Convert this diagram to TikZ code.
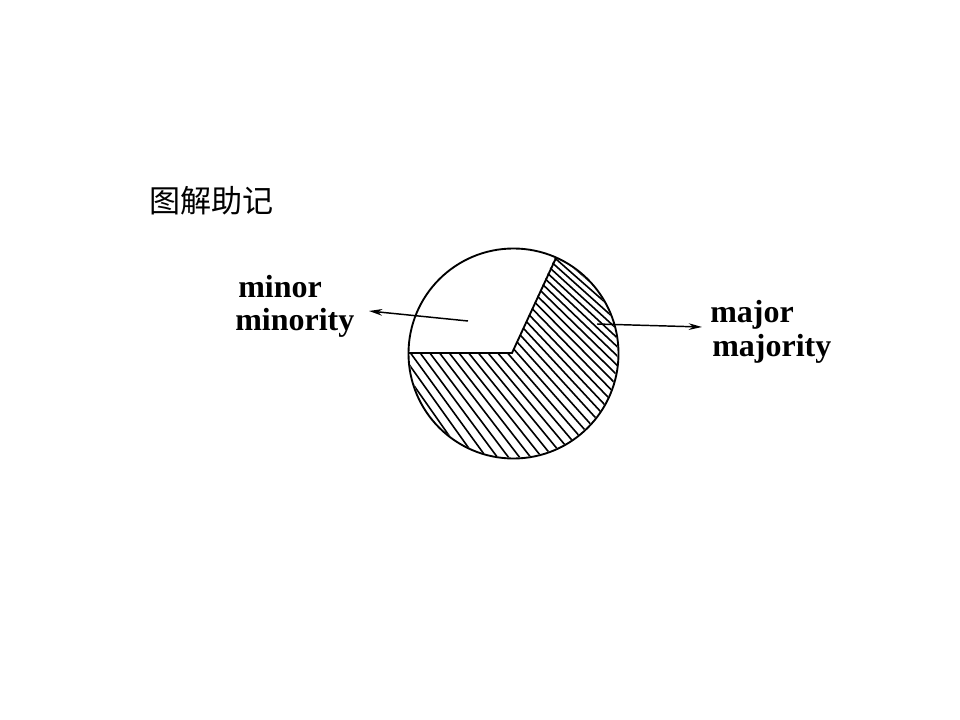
\documentclass[tikz,border=0pt]{standalone}
\usepackage{fontspec}
\setmainfont{Liberation Serif}
\newfontfamily\cjk{Noto Sans CJK SC}
\usetikzlibrary{arrows.meta}
\begin{document}
\begin{tikzpicture}[x=0.75pt,y=-0.75pt,
  outline/.style={line width=1.4pt},
  hatch/.style={line width=1.2pt},
  pointer/.style={line width=1.1pt,-{Stealth[length=10pt,width=5pt]}},
  label/.style={font=\fontsize{24}{27}\selectfont\bfseries,anchor=base west,inner sep=0pt}]
\useasboundingbox (0,0) rectangle (960,720);
% title
\node[font=\cjk\fontsize{23.3}{27}\selectfont,anchor=west,inner sep=0pt] (title) at (149,201) {图解助记};
% circle and sector
\coordinate (c) at (513.5,353.5);
\coordinate (o) at (512,353);
\coordinate (w) at (408.5,353);
\coordinate (p) at (556,258);
\begin{scope}
  \clip (c) circle[radius=104];
  \clip (o) -- (390,353) -- (390,480) -- (640,480) -- (640,215) -- (574,215) -- cycle;
  \foreach \i in {0,...,38} {
    \pgfmathsetmacro\xk{362+9.7*\i}
    \pgfmathsetmacro\th{54-(\xk-410)*0.05}
    \draw[hatch] (\xk,353) ++(\th:220) -- ++(\th+180:440);
  }
\end{scope}
\draw[outline] (c) circle[radius=105];
\draw[outline] (w) -- (o) -- (p);
% labels
\node[label] (minor) at (238,297) {minor};
\node[label] (minority) at (235,330) {minority};
\node[label] (major) at (710,322) {major};
\node[label] (majority) at (712,356) {majority};
% arrows
\coordinate (la) at (468,321);
\coordinate (lb) at (369,311);
\coordinate (ra) at (597,324);
\coordinate (rb) at (702,327);
\draw[pointer] (la) -- (lb);
\draw[pointer] (ra) -- (rb);
\end{tikzpicture}
\end{document}
